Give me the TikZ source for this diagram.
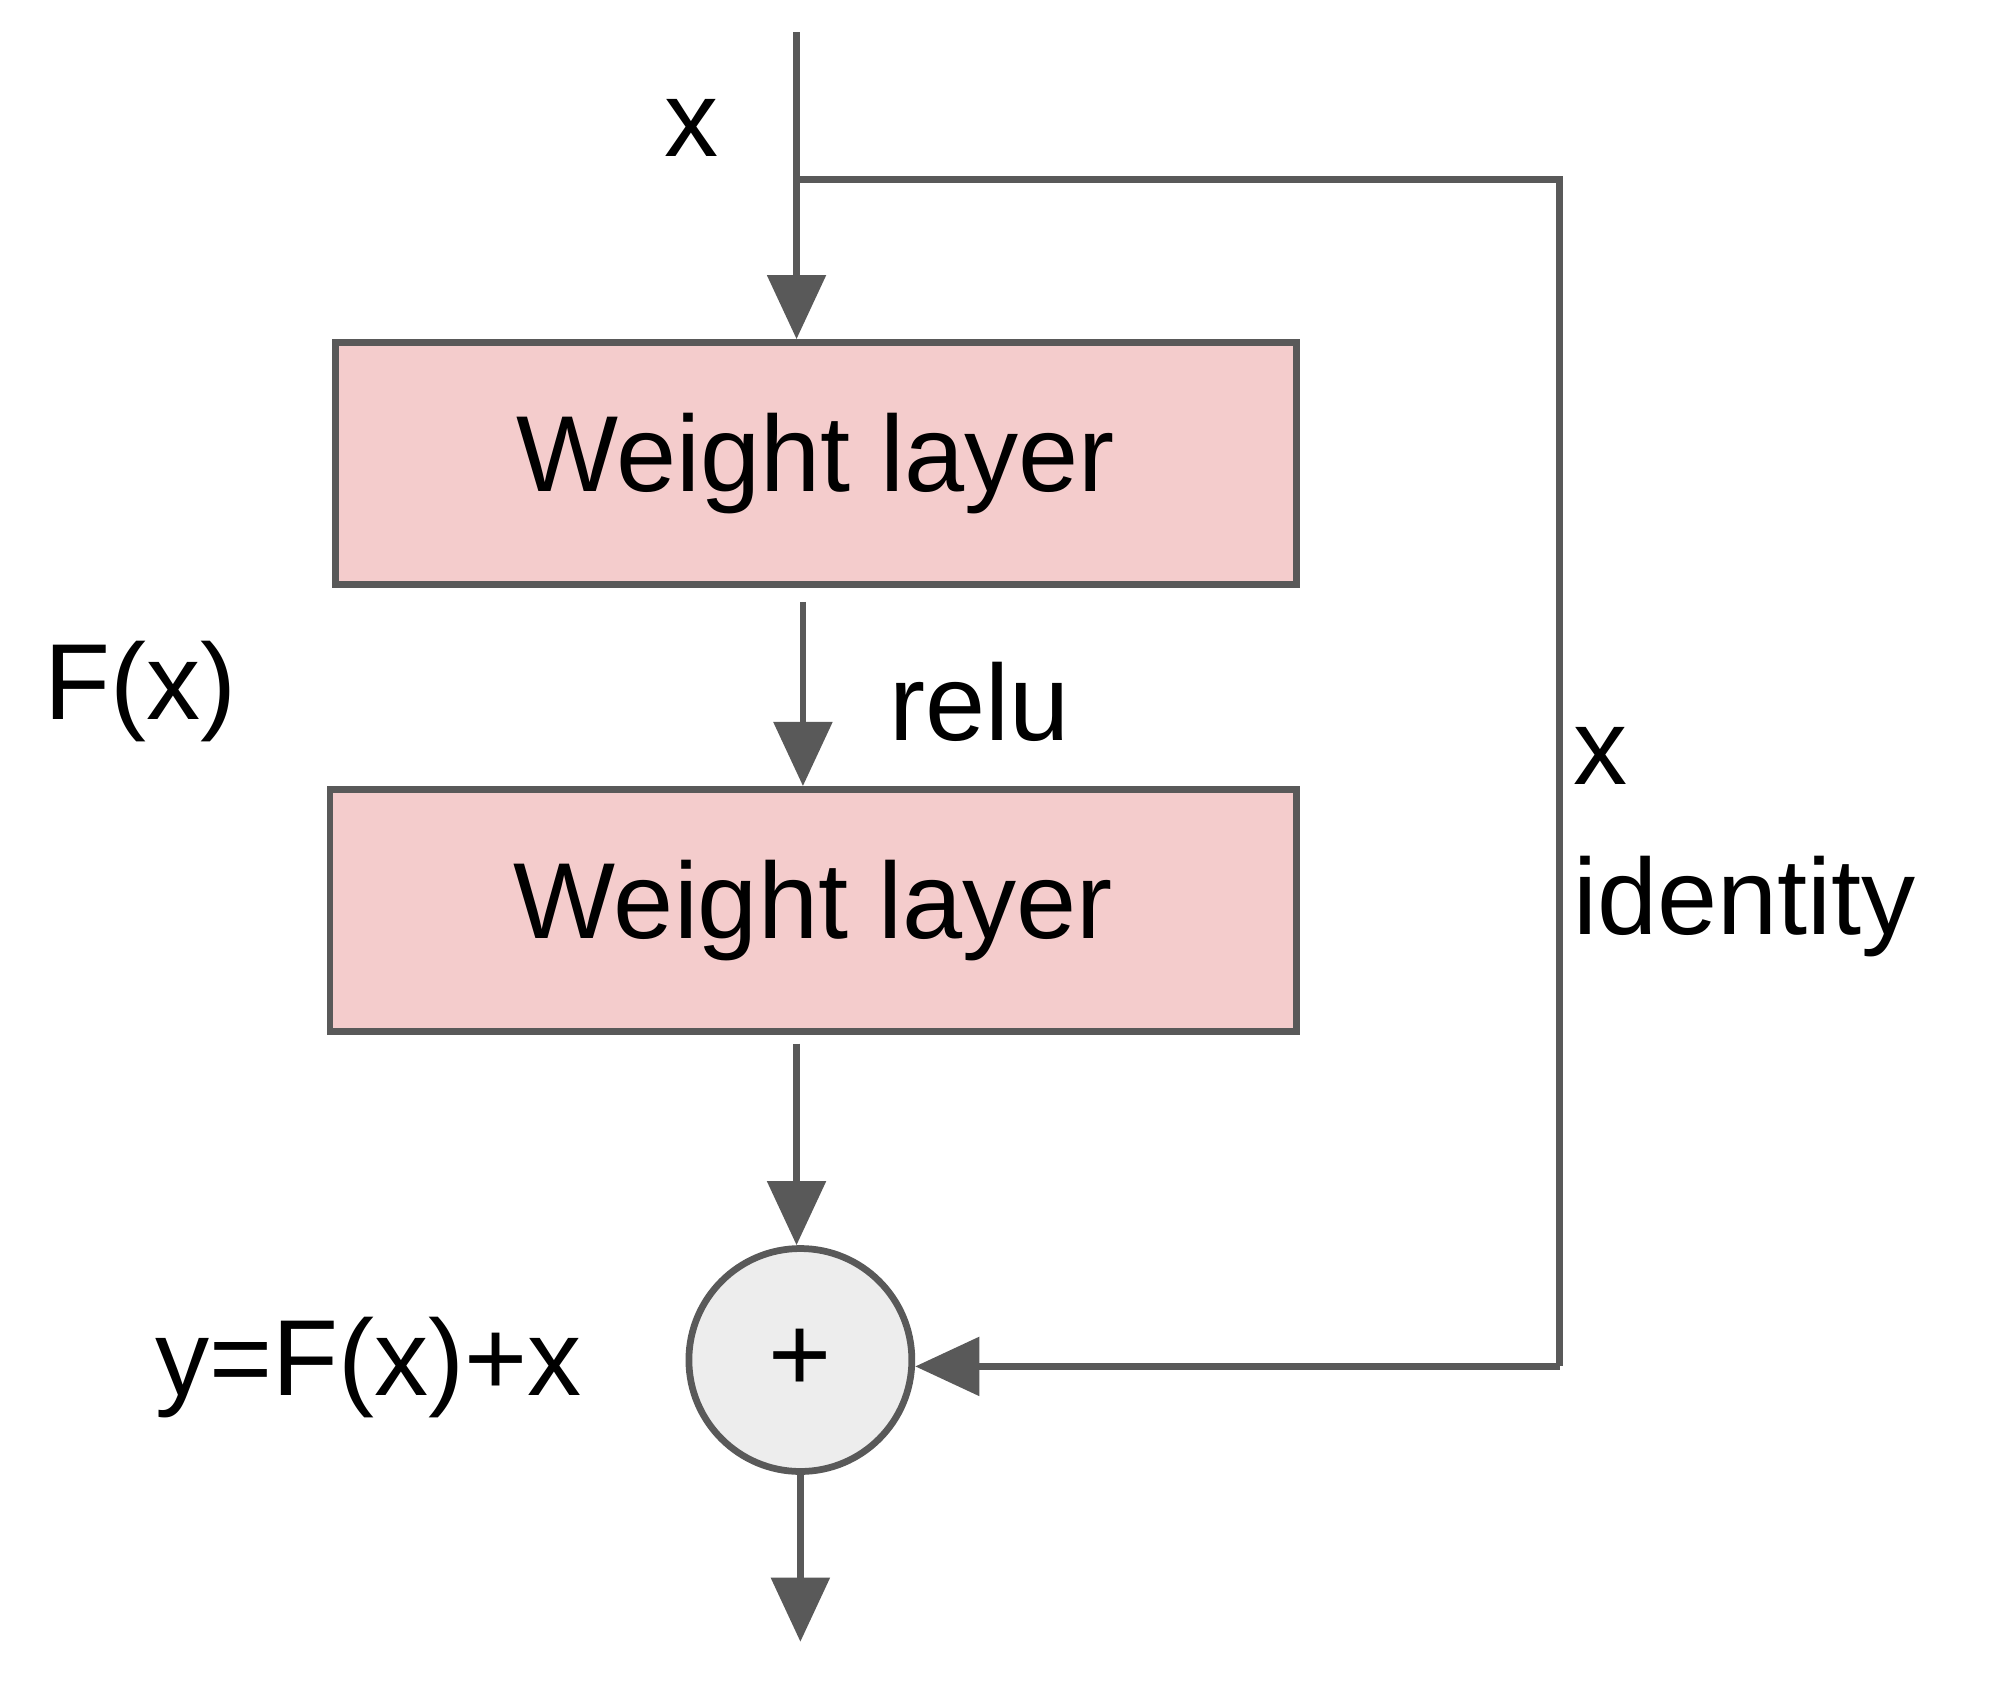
\documentclass[tikz,border=0pt]{standalone}
\usepackage{fontspec}
\setmainfont{Liberation Sans}
\usetikzlibrary{arrows.meta}
\begin{document}
\begin{tikzpicture}[x=0.01cm,y=-0.01cm,
  ln/.style={draw=black!65,line width=1.5pt},
  arr/.style={ln,-{Triangle[length=0.5cm,width=0.45cm]}},
  box/.style={ln,fill={rgb,255:red,244;green,204;blue,204},minimum width=7.5cm,minimum height=1.89cm,inner sep=0pt,font=\fontsize{24}{28}\selectfont},
  lbl/.style={font=\fontsize{24}{28}\selectfont,inner sep=0pt}]
\useasboundingbox (0,0) rectangle (1568,1312);
\coordinate (top) at (622,25);
\coordinate (br) at (622,140);
\coordinate (rt) at (1218,140);
\coordinate (rb) at (1218,1067);
\node[box] (w1) at (637,362) {Weight layer};
\node[box,minimum width=7.54cm] (w2) at (635,711) {Weight layer};
\node[circle,ln,fill=black!7,minimum size=1.74cm,inner sep=0pt,font=\fontsize{24}{28}\selectfont] (p) at (625,1062) {+};
\coordinate (out) at (625,1282);
\draw[arr] (top) -- (w1.north -| top);
\draw[ln] (br) -- (rt) -- (rb);
\draw[arr] (rb) -- (p.east |- rb);
\draw[arr] (627,470) -- (w2.north -| 627,0);
\draw[arr] (622,815) -- (p.north -| 622,0);
\draw[arr] (p.south) -- (out);
\node[lbl] (lx) at (540,100) {x};
\node[lbl] (lf) at (110,540) {F(x)};
\node[lbl] (lr) at (765,548) {relu};
\node[lbl,anchor=west] (lx2) at (1228,590) {x};
\node[lbl,anchor=west] (li) at (1228,708) {identity};
\node[lbl] (ly) at (288,1068) {y=F(x)+x};
\end{tikzpicture}
\end{document}
